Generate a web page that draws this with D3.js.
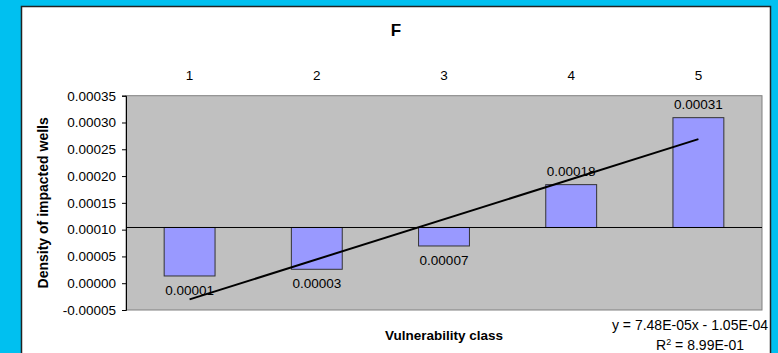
<!DOCTYPE html>
<html>
<head>
<meta charset="utf-8">
<script src="https://cdn.jsdelivr.net/npm/d3@7"></script>
<style>
  html, body { margin: 0; padding: 0; background: #00C0F0; }
  svg { display: block; }
  text { font-family: Arial, "Liberation Sans", Helvetica, sans-serif; fill: #000; }
</style>
</head>
<body>
<svg id="chart" width="778" height="353"></svg>
<script>
// Density of impacted wells per vulnerability class
const categories = [1, 2, 3, 4, 5];
const density = [0.0000135, 0.000026, 0.0000695, 0.000184, 0.000309];
const yTicks = [-0.00005, 0, 0.00005, 0.0001, 0.00015, 0.0002, 0.00025, 0.0003, 0.00035];
// linear trend fitted to the densities
const trendSlope = 7.48e-5;
const trendIntercept = -1.05e-4;
const trendText = "y = 7.48E-05x - 1.05E-04";
const r2Text = "= 8.99E-01";
// value where the category axis crosses the value axis
const axisCross = 0.000104;

const svg = d3.select("#chart");
const W = 778, H = 353;

// white chart panel
svg.append("rect")
  .attr("x", 21.5).attr("y", 6.5)
  .attr("width", 749).attr("height", H)
  .attr("fill", "#fff")
  .attr("stroke", "#222").attr("stroke-width", 1.5);

const plot = { left: 126, right: 762, top: 95.7, bottom: 310 };

const x = d3.scaleBand()
  .domain(categories)
  .range([plot.left, plot.right])
  .paddingInner(0.6)
  .paddingOuter(0.3);

const xLin = d3.scaleLinear()
  .domain([categories[0], categories[categories.length - 1]])
  .range([x(categories[0]) + x.bandwidth() / 2,
          x(categories[categories.length - 1]) + x.bandwidth() / 2]);

const y = d3.scaleLinear()
  .domain([-0.00005, 0.00035])
  .range([plot.bottom, plot.top]);

// plot area
svg.append("rect")
  .attr("x", plot.left).attr("y", plot.top)
  .attr("width", plot.right - plot.left)
  .attr("height", plot.bottom - plot.top)
  .attr("fill", "#C0C0C0")
  .attr("stroke", "#808080").attr("stroke-width", 1);

// value axis (plain hyphen for negatives)
const fmt5 = d3.format(".5f");
const fmt = (v) => fmt5(v).replace("\u2212", "-");
const yAxis = d3.axisLeft(y)
  .tickValues(yTicks)
  .tickFormat(fmt)
  .tickSize(4)
  .tickPadding(6);
const gy = svg.append("g")
  .attr("transform", `translate(${plot.left},0)`)
  .call(yAxis);
gy.select(".domain").attr("stroke", "#000");
gy.selectAll(".tick line").attr("stroke", "#000");
gy.selectAll(".tick text")
  .attr("font-size", "13.5px")
  .attr("font-family", "Arial, 'Liberation Sans', sans-serif")
  .attr("fill", "#000");

// bars hang from the category axis
svg.append("g").selectAll("rect")
  .data(categories)
  .join("rect")
  .attr("x", (d) => x(d))
  .attr("width", x.bandwidth())
  .attr("y", (d, i) => y(Math.max(density[i], axisCross)))
  .attr("height", (d, i) => Math.abs(y(density[i]) - y(axisCross)))
  .attr("fill", "#9999FF")
  .attr("stroke", "#333")
  .attr("stroke-width", 1);

// category axis line
svg.append("line")
  .attr("x1", plot.left).attr("x2", plot.right)
  .attr("y1", y(axisCross)).attr("y2", y(axisCross))
  .attr("stroke", "#000").attr("stroke-width", 1);

// category labels across the top
svg.append("g").selectAll("text")
  .data(categories)
  .join("text")
  .attr("x", (d) => x(d) + x.bandwidth() / 2)
  .attr("y", 80)
  .attr("text-anchor", "middle")
  .attr("font-size", "13.5px")
  .text((d) => d);

// value labels
svg.append("g").selectAll("text")
  .data(categories)
  .join("text")
  .attr("x", (d) => x(d) + x.bandwidth() / 2)
  .attr("y", (d, i) => density[i] >= axisCross ? y(density[i]) - 9 : y(density[i]) + 19)
  .attr("text-anchor", "middle")
  .attr("font-size", "13.5px")
  .text((d, i) => fmt(density[i]));

// trend line
svg.append("line")
  .attr("x1", xLin(categories[0]))
  .attr("y1", y(trendSlope * categories[0] + trendIntercept))
  .attr("x2", xLin(categories[categories.length - 1]))
  .attr("y2", y(trendSlope * categories[categories.length - 1] + trendIntercept))
  .attr("stroke", "#000").attr("stroke-width", 2);

// titles
svg.append("text")
  .attr("x", 396).attr("y", 36)
  .attr("text-anchor", "middle")
  .attr("font-size", "17px").attr("font-weight", "bold")
  .text("F");

svg.append("text")
  .attr("transform", `translate(48,${(plot.top + plot.bottom) / 2}) rotate(-90)`)
  .attr("text-anchor", "middle")
  .attr("font-size", "14px").attr("font-weight", "bold")
  .text("Density of impacted wells");

svg.append("text")
  .attr("x", 444).attr("y", 340)
  .attr("text-anchor", "middle")
  .attr("font-size", "13.5px").attr("font-weight", "bold")
  .text("Vulnerability class");

// trend equation
svg.append("text")
  .attr("x", 768).attr("y", 330)
  .attr("text-anchor", "end")
  .attr("font-size", "14px")
  .text(trendText);

const r2 = svg.append("text")
  .attr("x", 744).attr("y", 350)
  .attr("text-anchor", "end")
  .attr("font-size", "14px");
r2.append("tspan").text("R");
r2.append("tspan").attr("dy", -5).attr("font-size", "9px").text("2");
r2.append("tspan").attr("dy", 5).text(" " + r2Text);
</script>
</body>
</html>
